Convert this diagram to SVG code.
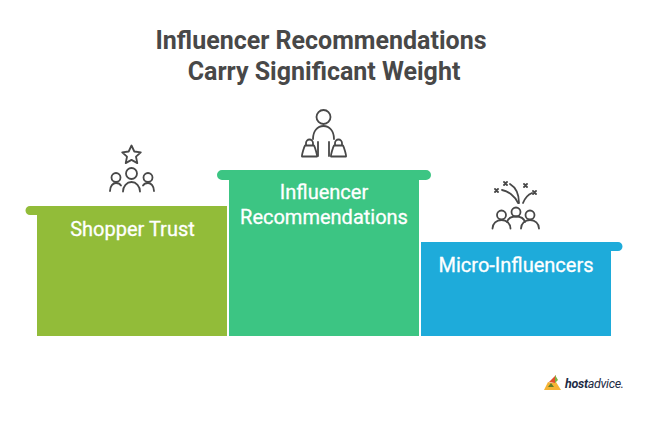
<svg xmlns="http://www.w3.org/2000/svg" width="660" height="423" viewBox="0 0 660 423">
<style>
.t{font-family:Roboto,"Liberation Sans",sans-serif;font-weight:700;font-size:25px;fill:#484848;text-anchor:middle}
.l{font-family:Roboto,"Liberation Sans",sans-serif;font-weight:400;font-size:20px;fill:#fff;stroke:#fff;stroke-width:.3;text-anchor:middle}
.i{fill:none;stroke:#484848;stroke-width:1.800;stroke-linecap:round;stroke-linejoin:round}
</style>
<rect width="660" height="423" fill="#fff"/>
<g id="title"><text class="t" x="321" y="49">Influencer Recommendations</text><text class="t" x="324" y="80">Carry Significant Weight</text></g>
<g id="shopper-trust">
<path fill="#92BC39" d="M30 206H227V336H37V215H30a4.500 4.500 0 0 1 0-9Z"/>
<text class="l" x="132.500" y="236">Shopper Trust</text>
<g class="i"><path d="M131.500 145.500l2.800 6 6.500.8-4.800 4.400 1.300 6.400-5.800-3.200-5.800 3.200 1.300-6.400-4.800-4.400 6.500-.8Z"/><circle cx="131.500" cy="173.500" r="5.500"/><path d="M123 191.500a8.500 9.500 0 0 1 17 0"/><circle cx="116" cy="177.500" r="4.500"/><path d="M110 191c0-5 3-8 6-8 2 0 4 .8 5 2.500"/><circle cx="148" cy="177.500" r="4.500"/><path d="M154 191c0-5-3-8-6-8-2 0-4 .8-5 2.500"/></g>
</g>
<g id="influencer-recommendations">
<path fill="#3CC583" d="M222 170H426a5 5 0 0 1 0 10H419V336H229V180H222a5 5 0 0 1 0-10Z"/>
<text class="l" x="324" y="199">Influencer</text><text class="l" x="324" y="224">Recommendations</text>
<g class="i"><circle cx="323.500" cy="117" r="7"/><path d="M313 139c0-8 4.500-13 10.500-13s10.500 5 10.500 13M318 156v-14M329 156v-14"/><path d="M302 156.500c-.5-1 2-9.500 3-11h9c1 1.500 3.500 10 3 11ZM306 145.500v-2.500a3.500 3.500 0 0 1 7 0v2.500M331 156.500c-.5-1 2-9.500 3-11h9c1 1.500 3.500 10 3 11ZM335 145.500v-2.500a3.500 3.500 0 0 1 7 0v2.500"/></g>
</g>
<g id="micro-influencers">
<path fill="#1EABDA" d="M421 242H618a4.500 4.500 0 0 1 0 9H611V336H421Z"/>
<text class="l" x="516" y="272">Micro-Influencers</text>
<g class="i"><circle cx="501.500" cy="215" r="4.500"/><path d="M492.500 228.500c0-5 4-8.500 9-8.500s9 3.500 9 8.500"/><circle cx="516" cy="212" r="4.500"/><path d="M507 222c1-3.500 4.500-5.500 9-5.500s8 2 9 5.500"/><circle cx="530" cy="215" r="4.500"/><path d="M521 228.500c0-5 4-8.500 9-8.500s9 3.500 9 8.500"/>
<path d="M502 190c6 1 13 6 16 13M510 184c5 3 9 9 9 19M523 203c2-5 4-8 9-10"/>
<path d="M495 189l3 3M498 189l-3 3M504 182l3 3M507 182l-3 3M524 184l3 3M527 184l-3 3M533 191l3 3M536 191l-3 3"/></g>
</g>
<g id="hostadvice-logo">
<path fill="#F5B335" d="M544 390l4-8 4 1 4-1 5 8Z"/><path fill="#E2502B" d="M549 382l7-7-1 8Z"/><path fill="#7CB342" d="M555 375l3 5-3 3Z"/><path fill="#5f7d2a" d="M548 387l3-4 3 4Z"/>
<text x="565" y="388" font-family="Roboto,'Liberation Sans',sans-serif" font-size="12.500" font-style="italic" font-weight="700" fill="#1d2b45" textLength="59">host<tspan font-weight="400">advice.</tspan></text>
</g>
</svg>
